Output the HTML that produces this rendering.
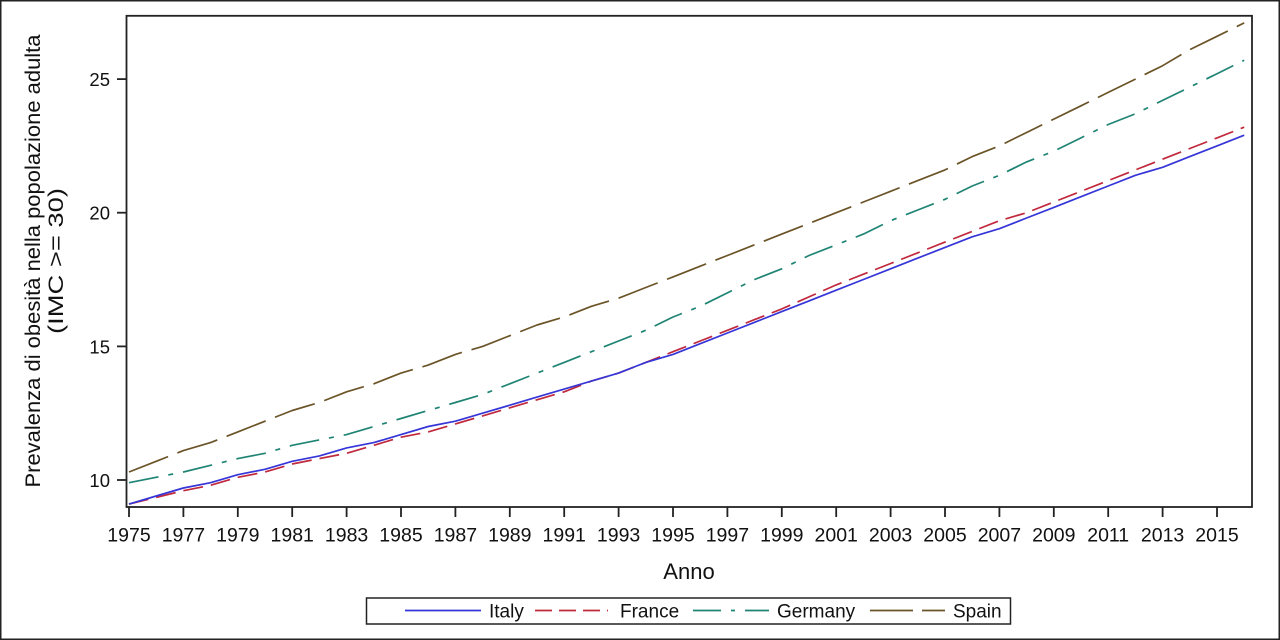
<!DOCTYPE html>
<html>
<head>
<meta charset="utf-8">
<style>
html,body{margin:0;padding:0;background:#fff;}
svg{display:block;}
text{font-family:"Liberation Sans",Arial,sans-serif;fill:#111;}
</style>
</head>
<body>
<svg width="1280" height="640" viewBox="0 0 1280 640" xmlns="http://www.w3.org/2000/svg">
<rect x="0.75" y="0.75" width="1278.5" height="638.5" fill="#fff" stroke="#222" stroke-width="1.5"/>

<!-- series -->
<g fill="none" stroke-width="1.7" stroke-linejoin="round">
<polyline stroke="#6b5428" stroke-dasharray="42 10" points="129,472.0 156.2,461.3 183.4,450.6 210.6,442.6 237.8,431.9 265,421.2 292.2,410.5 319.4,402.5 346.6,391.8 373.8,383.8 401,373.1 428.2,365.1 455.4,354.4 482.6,346.4 509.8,335.7 537,325.0 564.2,317.0 591.4,306.3 618.6,298.2 645.8,287.5 673,276.9 700.2,266.2 727.4,255.5 754.6,244.8 781.8,234.1 809,223.4 836.2,212.7 863.4,202.0 890.6,191.3 917.8,180.6 945,169.9 972.2,156.6 999.4,145.9 1026.6,132.5 1053.8,119.1 1081,105.8 1108.2,92.4 1135.4,79.1 1162.6,65.7 1189.8,49.6 1217,36.3 1244.2,22.9"/>
<polyline stroke="#1f8474" stroke-dasharray="30 10 5 10" points="129,482.7 156.2,477.3 183.4,472.0 210.6,465.3 237.8,458.6 265,453.3 292.2,445.3 319.4,439.9 346.6,434.6 373.8,426.5 401,418.5 428.2,410.5 455.4,402.5 482.6,394.5 509.8,383.8 537,373.1 564.2,362.4 591.4,351.7 618.6,341.0 645.8,330.3 673,317.0 700.2,306.3 727.4,292.9 754.6,279.5 781.8,268.8 809,255.5 836.2,244.8 863.4,234.1 890.6,220.7 917.8,210.0 945,199.3 972.2,186.0 999.4,175.3 1026.6,161.9 1053.8,151.2 1081,137.9 1108.2,124.5 1135.4,113.8 1162.6,100.4 1189.8,87.1 1217,73.7 1244.2,60.3"/>
<polyline stroke="#c0283c" stroke-dasharray="20 8" points="129,504.1 156.2,497.4 183.4,490.7 210.6,485.3 237.8,477.3 265,472.0 292.2,464.0 319.4,458.6 346.6,453.3 373.8,445.3 401,437.2 428.2,431.9 455.4,423.9 482.6,415.9 509.8,407.8 537,399.8 564.2,391.8 591.4,381.1 618.6,373.1 645.8,362.4 673,351.7 700.2,341.0 727.4,330.3 754.6,319.6 781.8,308.9 809,296.9 836.2,284.9 863.4,274.2 890.6,263.5 917.8,252.8 945,242.1 972.2,231.4 999.4,220.7 1026.6,212.7 1053.8,202.0 1081,191.3 1108.2,180.6 1135.4,169.9 1162.6,159.2 1189.8,148.5 1217,137.9 1244.2,127.2"/>
<polyline stroke="#3535d8" points="129,504.1 156.2,496.0 183.4,488.0 210.6,482.7 237.8,474.7 265,469.3 292.2,461.3 319.4,455.9 346.6,447.9 373.8,442.6 401,434.6 428.2,426.5 455.4,421.2 482.6,413.2 509.8,405.2 537,397.1 564.2,389.1 591.4,381.1 618.6,373.1 645.8,362.4 673,354.4 700.2,343.7 727.4,333.0 754.6,322.3 781.8,311.6 809,300.9 836.2,290.2 863.4,279.5 890.6,268.8 917.8,258.1 945,247.4 972.2,236.8 999.4,228.7 1026.6,218.0 1053.8,207.4 1081,196.7 1108.2,186.0 1135.4,175.3 1162.6,167.3 1189.8,156.6 1217,145.9 1244.2,135.2"/>
</g>

<!-- plot frame -->
<rect x="126.5" y="15.8" width="1125.5" height="491.2" fill="none" stroke="#222" stroke-width="1.8"/>

<!-- y ticks -->
<g stroke="#222" stroke-width="1.8">
<line x1="117" y1="79.1" x2="126" y2="79.1"/>
<line x1="117" y1="212.7" x2="126" y2="212.7"/>
<line x1="117" y1="346.4" x2="126" y2="346.4"/>
<line x1="117" y1="480" x2="126" y2="480"/>
</g>
<g font-size="18.5" text-anchor="end">
<text x="110" y="86">25</text>
<text x="110" y="219.6">20</text>
<text x="110" y="353.3">15</text>
<text x="110" y="486.9">10</text>
</g>

<!-- x ticks -->
<g stroke="#222" stroke-width="1.8">
<line x1="129" y1="507" x2="129" y2="517"/>
<line x1="183.4" y1="507" x2="183.4" y2="517"/>
<line x1="237.8" y1="507" x2="237.8" y2="517"/>
<line x1="292.2" y1="507" x2="292.2" y2="517"/>
<line x1="346.6" y1="507" x2="346.6" y2="517"/>
<line x1="401" y1="507" x2="401" y2="517"/>
<line x1="455.4" y1="507" x2="455.4" y2="517"/>
<line x1="509.8" y1="507" x2="509.8" y2="517"/>
<line x1="564.2" y1="507" x2="564.2" y2="517"/>
<line x1="618.6" y1="507" x2="618.6" y2="517"/>
<line x1="673" y1="507" x2="673" y2="517"/>
<line x1="727.4" y1="507" x2="727.4" y2="517"/>
<line x1="781.8" y1="507" x2="781.8" y2="517"/>
<line x1="836.2" y1="507" x2="836.2" y2="517"/>
<line x1="890.6" y1="507" x2="890.6" y2="517"/>
<line x1="945" y1="507" x2="945" y2="517"/>
<line x1="999.4" y1="507" x2="999.4" y2="517"/>
<line x1="1053.8" y1="507" x2="1053.8" y2="517"/>
<line x1="1108.2" y1="507" x2="1108.2" y2="517"/>
<line x1="1162.6" y1="507" x2="1162.6" y2="517"/>
<line x1="1217" y1="507" x2="1217" y2="517"/>
</g>
<g font-size="19.5" text-anchor="middle">
<text x="129" y="541.5">1975</text>
<text x="183.4" y="541.5">1977</text>
<text x="237.8" y="541.5">1979</text>
<text x="292.2" y="541.5">1981</text>
<text x="346.6" y="541.5">1983</text>
<text x="401" y="541.5">1985</text>
<text x="455.4" y="541.5">1987</text>
<text x="509.8" y="541.5">1989</text>
<text x="564.2" y="541.5">1991</text>
<text x="618.6" y="541.5">1993</text>
<text x="673" y="541.5">1995</text>
<text x="727.4" y="541.5">1997</text>
<text x="781.8" y="541.5">1999</text>
<text x="836.2" y="541.5">2001</text>
<text x="890.6" y="541.5">2003</text>
<text x="945" y="541.5">2005</text>
<text x="999.4" y="541.5">2007</text>
<text x="1053.8" y="541.5">2009</text>
<text x="1108.2" y="541.5">2011</text>
<text x="1162.6" y="541.5">2013</text>
<text x="1217" y="541.5">2015</text>
</g>

<!-- axis titles -->
<text x="689" y="579" font-size="22" text-anchor="middle">Anno</text>
<g font-size="21" text-anchor="middle">
<text transform="translate(40,261) rotate(-90)" textLength="453" lengthAdjust="spacingAndGlyphs">Prevalenza di obesità nella popolazione adulta</text>
<text transform="translate(63,261) rotate(-90)" textLength="146" lengthAdjust="spacingAndGlyphs">(IMC &gt;= 30)</text>
</g>

<!-- legend -->
<rect x="366.5" y="598" width="644" height="26" fill="#fff" stroke="#222" stroke-width="1.5"/>
<g stroke-width="1.7" fill="none">
<line x1="405" y1="610.5" x2="481" y2="610.5" stroke="#3535d8"/>
<line x1="535" y1="610.5" x2="608" y2="610.5" stroke="#c0283c" stroke-dasharray="17 7"/>
<line x1="693" y1="610.5" x2="769" y2="610.5" stroke="#1f8474" stroke-dasharray="28 10 4 10"/>
<line x1="870" y1="610.5" x2="945" y2="610.5" stroke="#6b5428" stroke-dasharray="43 9"/>
</g>
<g font-size="19">
<text x="489" y="617.5">Italy</text>
<text x="620" y="617.5">France</text>
<text x="777" y="617.5">Germany</text>
<text x="953" y="617.5">Spain</text>
</g>
</svg>
</body>
</html>
